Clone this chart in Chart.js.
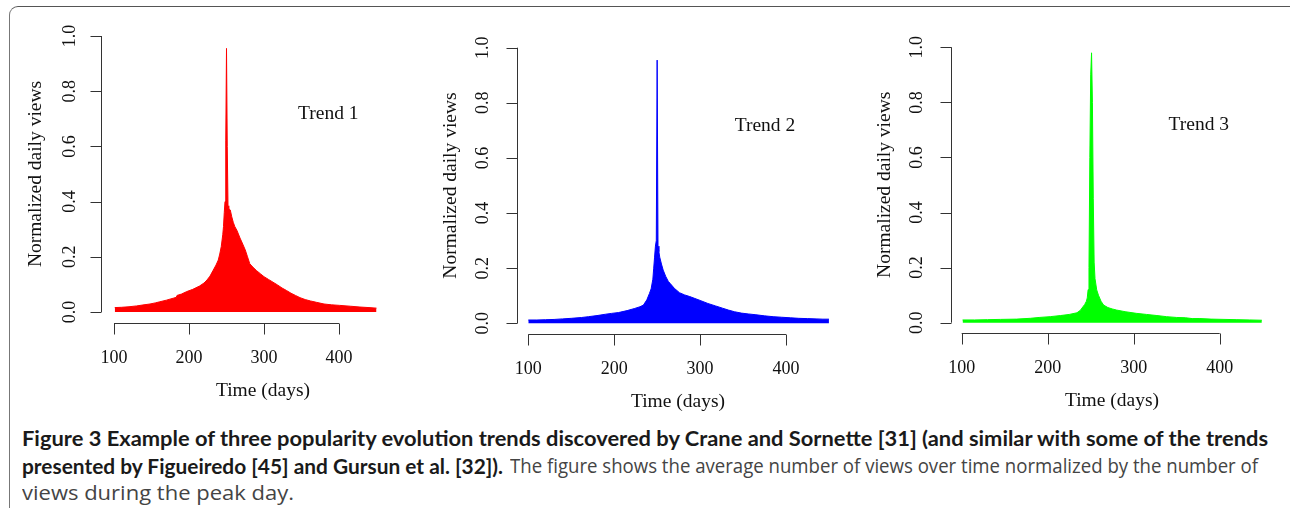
<!DOCTYPE html>
<html><head><meta charset="utf-8">
<script src="https://cdn.jsdelivr.net/npm/chart.js@4.4.1/dist/chart.umd.min.js"></script>
<style>
html,body{margin:0;padding:0;background:#fff;width:1292px;height:516px;overflow:hidden;position:relative;}
.panel{position:absolute;top:0;height:420px;}
#frame{position:absolute;left:9px;top:6px;width:1281px;height:502px;border-top:1.5px solid #555;border-left:1.5px solid #777;border-top-left-radius:9px;box-sizing:border-box;}
.cap{position:absolute;white-space:nowrap;transform-origin:0 50%;line-height:22px;}
.b{font-family:'Lato';font-weight:700;font-size:20px;color:#1a1a1a;}
.r{font-family:'Open Sans';font-weight:400;font-size:19.5px;color:#444;}
</style></head><body>
<div id="frame"></div>
<div class="panel" style="left:0px;width:430px"><canvas id="c1" width="430" height="420"></canvas></div>
<div class="panel" style="left:430px;width:430px"><canvas id="c2" width="430" height="420"></canvas></div>
<div class="panel" style="left:860px;width:432px"><canvas id="c3" width="432" height="420"></canvas></div>
<div class="cap b" data-w="1246" style="left:22px;top:427px">Figure 3 Example of three popularity evolution trends discovered by Crane and Sornette [31] (and similar with some of the trends</div>
<div class="cap b" data-w="481" style="left:22px;top:455px">presented by Figueiredo [45] and Gursun et al. [32]).</div>
<div class="cap r" data-w="748" style="left:510px;top:455px">The figure shows the average number of views over time normalized by the number of</div>
<div class="cap r" data-w="272" style="left:22px;top:482px">views during the peak day.</div>
<script>
// ---------- DATA ----------
const trendNames = ['Trend 1', 'Trend 2', 'Trend 3'];
const xTicks = [100, 200, 300, 400];
const yTicks = [0, 0.2, 0.4, 0.6, 0.8, 1.0];
const xTitle = 'Time (days)';
const yTitle = 'Normalized daily views';

const days1 = [101,110,120,130,140,148,155,161,170,179,183,184,190,197,205,214,220,224,228,232,236,239,241,243,245,246,247,248,249,250,251,252,253,255,257,259,261,264,268,271,275,278,281,285,290,295,300,306,312,318,324,330,336,342,348,355,362,370,380,390,401,415,428,440,450];
const vals1 = [0.016,0.017,0.019,0.022,0.026,0.029,0.033,0.037,0.043,0.050,0.053,0.060,0.065,0.074,0.082,0.094,0.105,0.116,0.130,0.150,0.170,0.188,0.210,0.237,0.280,0.310,0.360,0.400,0.620,0.955,0.600,0.385,0.375,0.370,0.345,0.325,0.310,0.295,0.268,0.250,0.225,0.200,0.175,0.163,0.150,0.139,0.128,0.118,0.108,0.098,0.087,0.078,0.068,0.060,0.052,0.045,0.040,0.035,0.029,0.026,0.024,0.021,0.018,0.016,0.014];

const days2 = [100,110,120,130,140,150,162,170,180,190,197,205,215,224,230,234,238,241,243,245,246,247,248,249,250,251,252,253,255,257,260,263,265,270,276,282,288,294,300,309,318,326,333,340,348,356,365,375,385,395,405,415,425,435,443,450];
const vals2 = [0.012,0.012,0.013,0.014,0.016,0.018,0.021,0.024,0.028,0.033,0.036,0.039,0.046,0.054,0.060,0.066,0.085,0.108,0.125,0.160,0.200,0.240,0.280,0.300,0.955,0.280,0.260,0.240,0.215,0.193,0.170,0.152,0.145,0.127,0.111,0.103,0.097,0.090,0.083,0.072,0.063,0.055,0.048,0.042,0.037,0.034,0.031,0.027,0.024,0.022,0.020,0.018,0.017,0.016,0.015,0.015];

const days3 = [101,115,130,145,164,180,190,203,215,225,234,238,241,243,245,246,247,248,249,250,251,252,253,254,255,257,259,262,265,270,275,280,290,303,315,327,338,350,360,368,377,390,405,420,435,449];
const vals3 = [0.010,0.010,0.011,0.012,0.013,0.016,0.019,0.022,0.026,0.030,0.036,0.045,0.058,0.066,0.078,0.090,0.120,0.200,0.600,0.900,0.980,0.800,0.450,0.220,0.160,0.119,0.100,0.078,0.064,0.055,0.050,0.046,0.040,0.034,0.030,0.026,0.022,0.019,0.018,0.015,0.015,0.013,0.012,0.011,0.010,0.009];

// ---------- LAYOUT ----------
const panels = [
  {id:'c1', left:0,   width:430, yAxisX:101,   xAxisY:323,   px100:114,   px400:339,    py0:312,   py1:36,   xTitleX:263,  yLabOff:31, yTitOff:65, lab:[385.7,0.717], color:'#ff0000', days:days1, vals:vals1},
  {id:'c2', left:430, width:430, yAxisX:516.7, xAxisY:334.3, px100:528.3, px400:786,    py0:323.3, py1:47.7, xTitleX:678,  yLabOff:33, yTitOff:66, lab:[375.5,0.717], color:'#0000ff', days:days2, vals:vals2},
  {id:'c3', left:860, width:432, yAxisX:950.7, xAxisY:333.3, px100:961.7, px400:1219.7, py0:322.7, py1:47.3, xTitleX:1112, yLabOff:33, yTitOff:66, lab:[375.7,0.718], color:'#00ff00', days:days3, vals:vals3},
];
const TICKFONT = '18px "Liberation Serif"';
const TITLEFONT = '19.5px "Liberation Serif"';

const rAxes = {
  id: 'rAxes',
  afterDraw(chart, args, o) {
    const p = o.p;
    const {ctx, chartArea: a, scales: {x, y}} = chart;
    ctx.save();
    ctx.strokeStyle = '#333'; ctx.lineWidth = 1;
    ctx.beginPath();
    const ax = Math.round(a.left) + 0.5;
    ctx.moveTo(ax, y.getPixelForValue(yTicks[0]));
    ctx.lineTo(ax, y.getPixelForValue(yTicks[yTicks.length - 1]));
    yTicks.forEach(v => { const py = Math.round(y.getPixelForValue(v)) + 0.5; ctx.moveTo(ax, py); ctx.lineTo(ax - 11, py); });
    const ay = Math.round(a.bottom) + 0.5;
    ctx.moveTo(x.getPixelForValue(xTicks[0]), ay);
    ctx.lineTo(x.getPixelForValue(xTicks[xTicks.length - 1]), ay);
    xTicks.forEach(v => { const px = Math.round(x.getPixelForValue(v)) + 0.5; ctx.moveTo(px, ay); ctx.lineTo(px, ay + 11); });
    ctx.stroke();
    ctx.fillStyle = '#111'; ctx.font = TICKFONT;
    ctx.textAlign = 'center'; ctx.textBaseline = 'middle';
    yTicks.forEach(v => {
      ctx.save(); ctx.translate(a.left - p.yLabOff, y.getPixelForValue(v)); ctx.rotate(-Math.PI / 2);
      ctx.fillText(v.toFixed(1), 0, 0); ctx.restore();
    });
    xTicks.forEach(v => ctx.fillText(String(v), x.getPixelForValue(v), a.bottom + 35));
    ctx.font = TITLEFONT;
    ctx.fillText(xTitle, p.xTitleX - p.left, a.bottom + 68);
    ctx.save(); ctx.translate(a.left - p.yTitOff, (a.top + a.bottom) / 2); ctx.rotate(-Math.PI / 2);
    ctx.fillText(yTitle, 0, 0); ctx.restore();
    ctx.fillText(o.name, x.getPixelForValue(p.lab[0]), y.getPixelForValue(p.lab[1]));
    ctx.restore();
  }
};

const charts = [];
panels.forEach((p, i) => {
  const kx = (p.px400 - p.px100) / 300;
  const ky = p.py0 - p.py1;
  const xMax = 464;
  const xMin = 100 - (p.px100 - p.yAxisX) / kx;
  const right = p.px100 + (xMax - 100) * kx;
  const yMin = -(p.xAxisY - p.py0) / ky;
  const yMax = 1.04;
  const top = p.py1 - (yMax - 1) * ky;
  charts.push(new Chart(document.getElementById(p.id), {
    type: 'line',
    data: { datasets: [{
      data: p.days.map((d, j) => ({x: d, y: p.vals[j]})),
      borderColor: p.color, backgroundColor: p.color, borderWidth: 1,
      fill: 'origin', pointRadius: 0, tension: 0
    }]},
    options: {
      responsive: false, animation: false, events: [],
      layout: { padding: { left: p.yAxisX - p.left, right: p.width - (right - p.left), top: top, bottom: 420 - p.xAxisY } },
      plugins: { legend: {display: false}, tooltip: {enabled: false}, rAxes: {p: p, name: trendNames[i]} },
      scales: {
        x: { type: 'linear', min: xMin, max: xMax, display: false },
        y: { type: 'linear', min: yMin, max: yMax, display: false }
      }
    },
    plugins: [rAxes]
  }));
});

// caption fitting
function fit() {
  document.querySelectorAll('.cap').forEach(el => {
    el.style.transform = 'none';
    const w = el.getBoundingClientRect().width;
    el.style.transform = 'scaleX(' + (parseFloat(el.dataset.w) / w) + ')';
  });
}
fit();
if (document.fonts && document.fonts.ready) document.fonts.ready.then(() => { fit(); charts.forEach(c => c.draw()); });
</script>
</body></html>
